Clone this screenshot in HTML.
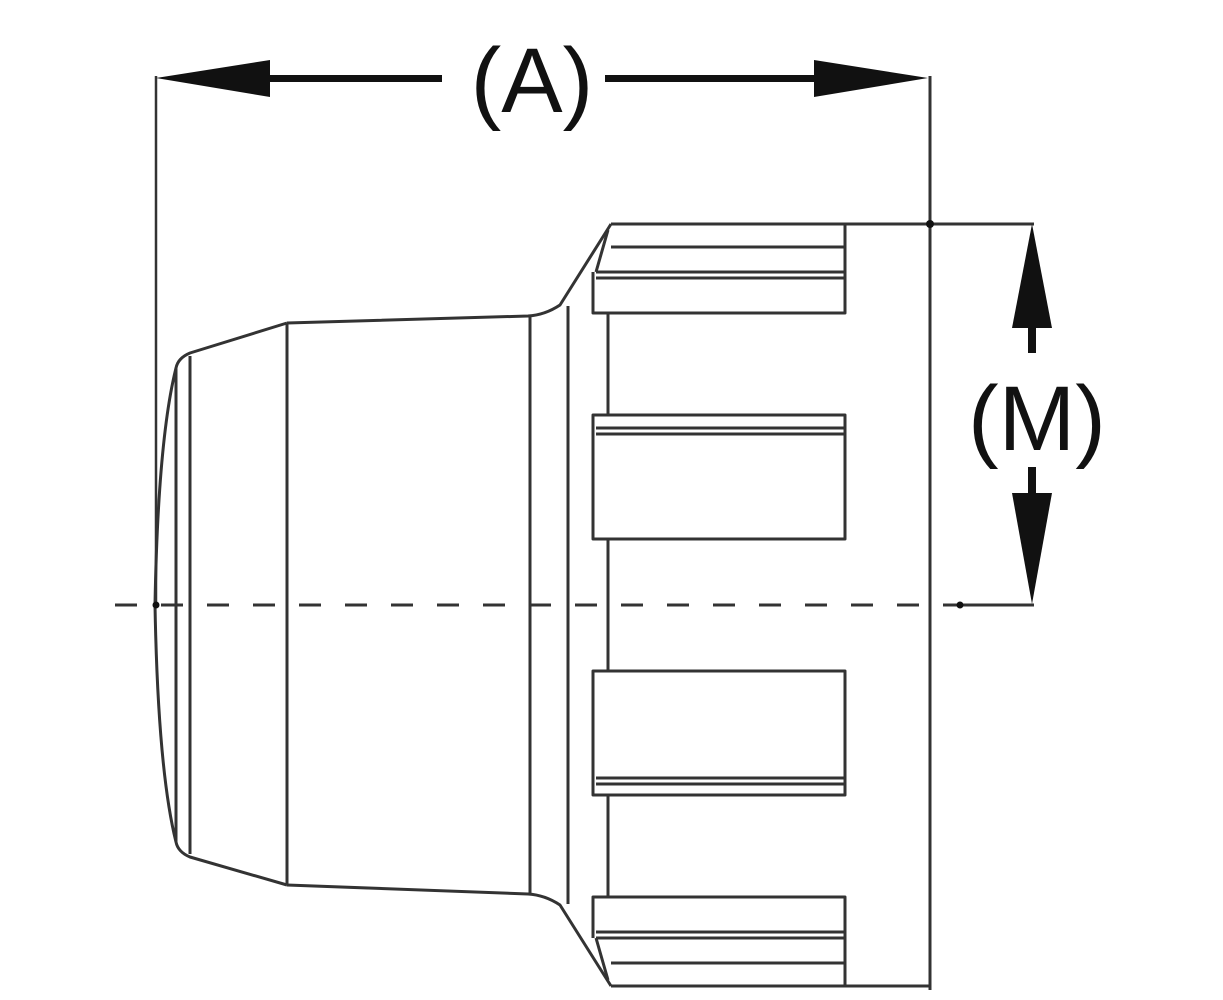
<!DOCTYPE html>
<html><head><style>html,body{margin:0;padding:0;background:#fff}svg{display:block}</style></head>
<body>
<svg width="1223" height="1000" viewBox="0 0 1223 1000" xmlns="http://www.w3.org/2000/svg">
<g fill="none" stroke="#333" stroke-width="3" stroke-linejoin="round">
<line x1="156" y1="76" x2="156" y2="605" stroke-width="2.5"/>
<line x1="930" y1="76" x2="930" y2="990" stroke-width="3"/>
<line x1="611" y1="224" x2="1034" y2="224"/>
<line x1="960" y1="605" x2="1034" y2="605"/>
<path d="M287 323 L190 353 Q178 358 176 368 Q158 440 155 605 Q158 770 176 842 Q178 852 190 857 L287 885"/>
<line x1="176" y1="368" x2="176" y2="842"/>
<line x1="190" y1="356" x2="190" y2="854"/>
<line x1="287" y1="323" x2="287" y2="885"/>
<path d="M287 323 L528 316 Q545 315 560 305 L611 224"/>
<path d="M287 885 L528 894 Q545 895 560 905 L611 986"/>
<line x1="530" y1="316" x2="530" y2="894"/>
<line x1="568" y1="306" x2="568" y2="904"/>
<line x1="611" y1="986" x2="930" y2="986"/>
<line x1="608" y1="230" x2="596" y2="272"/>
<line x1="608" y1="980" x2="596" y2="938"/>
<line x1="611" y1="247" x2="845" y2="247"/>
<line x1="596" y1="272" x2="845" y2="272"/>
<line x1="596" y1="278" x2="845" y2="278"/>
<path d="M845 224 L845 313 L593 313 L593 272"/>
<line x1="608" y1="313" x2="608" y2="415"/>
<path d="M593 539 L593 415 L845 415 L845 539 Z"/>
<line x1="596" y1="428" x2="845" y2="428"/>
<line x1="596" y1="434" x2="845" y2="434"/>
<line x1="608" y1="539" x2="608" y2="671"/>
<path d="M593 671 L593 795 L845 795 L845 671 Z"/>
<line x1="596" y1="778" x2="845" y2="778"/>
<line x1="596" y1="784" x2="845" y2="784"/>
<line x1="608" y1="795" x2="608" y2="897"/>
<path d="M845 986 L845 897 L593 897 L593 938"/>
<line x1="611" y1="963" x2="845" y2="963"/>
<line x1="596" y1="938" x2="845" y2="938"/>
<line x1="596" y1="932" x2="845" y2="932"/>
<line x1="115" y1="605" x2="960" y2="605" stroke-width="3" stroke-dasharray="22 24"/>
</g>
<circle cx="156" cy="605" r="3.5" fill="#111"/>
<circle cx="960" cy="605" r="3.5" fill="#111"/>
<circle cx="930" cy="224" r="4" fill="#111"/>
<g fill="#111">
<rect x="260" y="75" width="182" height="7"/>
<polygon points="156,78 270,60 270,97"/>
<rect x="605" y="75" width="215" height="7"/>
<polygon points="928,78 814,60 814,97"/>
<polygon points="1032,224 1012,328 1052,328"/>
<rect x="1028" y="320" width="8" height="33"/>
<rect x="1028" y="467" width="8" height="33"/>
<polygon points="1032,604 1012,493 1052,493"/>
</g>
<text x="532" y="112" font-family="Liberation Sans, sans-serif" font-size="92" text-anchor="middle" fill="#111">(A)</text>
<text x="1037" y="450" font-family="Liberation Sans, sans-serif" font-size="92" text-anchor="middle" fill="#111">(M)</text>
</svg>
</body></html>
